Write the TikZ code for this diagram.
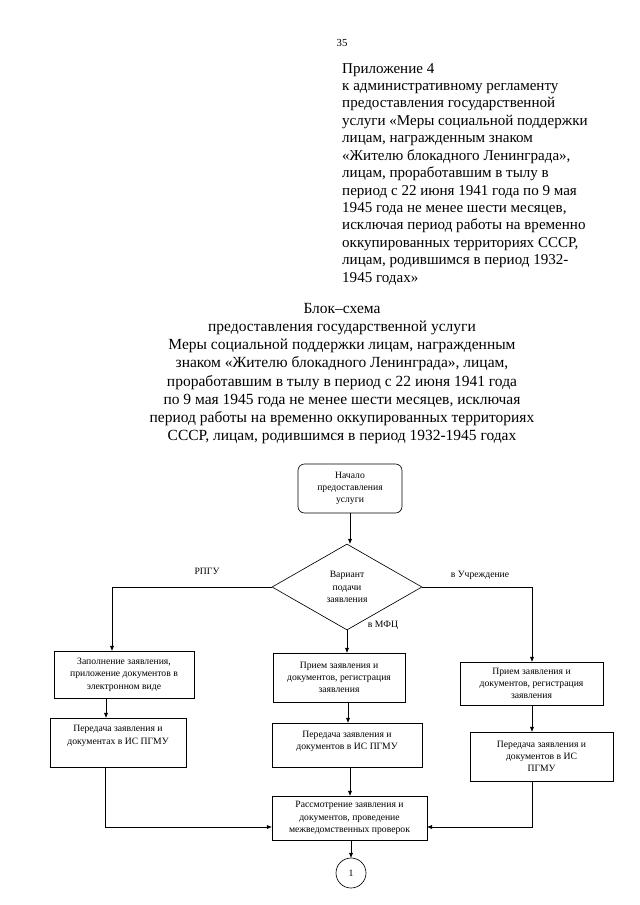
\documentclass[tikz,border=0pt]{standalone}
\usepackage{fontspec}
\setmainfont{Liberation Serif}
\usetikzlibrary{shapes.geometric,arrows.meta}
\def\pxu{0.93pt}

\begin{document}
\begin{tikzpicture}[x=0.93pt, y=-0.93pt,
    every node/.style={inner sep=0pt},
    flow/.style={font=\fontsize{9}{11.5}\selectfont, align=center},
    stepbox/.style={flow, draw, line width=0.6pt},
    conn/.style={line width=0.6pt},
    arr/.style={conn, -{Triangle[length=4.5pt,width=3.5pt]}}]

  \useasboundingbox (0,0) rectangle (640,905);

  % draws the page number and the headings
  \node (pnum) at (342,43) {\fontsize{10}{12}\selectfont 35};
  \node[anchor=north west, align=left, font=\fontsize{14}{16.2}\selectfont] (appx) at (342,63)
    {Приложение 4\\
     к административному регламенту\\
     предоставления государственной\\
     услуги «Меры социальной поддержки\\
     лицам, награжденным знаком\\
     «Жителю блокадного Ленинграда»,\\
     лицам, проработавшим в тылу в\\
     период с 22 июня 1941 года по 9 мая\\
     1945 года не менее шести месяцев,\\
     исключая период работы на временно\\
     оккупированных территориях СССР,\\
     лицам, родившимся в период 1932-\\
     1945 годах»};
  \node[anchor=north, align=center, font=\fontsize{14.4}{16.9}\selectfont] (title) at (342,303)
    {Блок–схема\\
     предоставления государственной услуги\\
     Меры социальной поддержки лицам, награжденным\\
     знаком «Жителю блокадного Ленинграда», лицам,\\
     проработавшим в тылу в период с 22 июня 1941 года\\
     по 9 мая 1945 года не менее шести месяцев, исключая\\
     период работы на временно оккупированных территориях\\
     СССР, лицам, родившимся в период 1932-1945 годах};

  % draws the blocks
  \node[stepbox, rounded corners=6pt, minimum width=104*\pxu, minimum height=49*\pxu] (start) at (350,488.5)
    {Начало\\предоставления\\услуги};
  \node[stepbox, diamond, minimum width=150*\pxu, minimum height=86*\pxu] (var) at (347,587)
    {Вариант\\подачи\\заявления};

  \node[stepbox, minimum width=140*\pxu, minimum height=47*\pxu] (fill) at (124,674.5)
    {Заполнение заявления,\\приложение документов в\\электронном виде};
  \node[stepbox, minimum width=136*\pxu, minimum height=49*\pxu, text depth=14pt] (sendL) at (118,742.5)
    {Передача заявления и\\документах в ИС ПГМУ};

  \node[stepbox, minimum width=132*\pxu, minimum height=49*\pxu] (recM) at (339,677.5)
    {Прием заявления и\\документов, регистрация\\заявления};
  \node[stepbox, minimum width=150*\pxu, minimum height=44*\pxu, text depth=9pt] (sendM) at (347,745)
    {Передача заявления и\\документов в ИС ПГМУ};

  \node[stepbox, minimum width=143*\pxu, minimum height=43*\pxu] (recR) at (531.5,683.5)
    {Прием заявления и\\документов, регистрация\\заявления};
  \node[stepbox, minimum width=143*\pxu, minimum height=49*\pxu] (sendR) at (541.5,756.5)
    {Передача заявления и\\документов в ИС\\ПГМУ};

  \node[stepbox, minimum width=155*\pxu, minimum height=44*\pxu] (check) at (349.5,818)
    {Рассмотрение заявления и\\документов, проведение\\межведомственных проверок};
  \node[stepbox, circle, minimum size=30*\pxu] (next) at (351,873) {1};

  % draws the branch labels
  \node[flow] (lblL) at (207,571) {РПГУ};
  \node[flow] (lblR) at (480,575) {в Учреждение};
  \node[flow] (lblM) at (383,625) {в МФЦ};

  % draws the connectors
  \coordinate (cL) at (112,587);
  \coordinate (inL) at (check.west |- 0,827);
  \coordinate (inR) at (check.east |- 0,827);
  \draw[arr] (start.south) -- (start.south |- var.north);
  \draw[arr] (var.west) -- (cL) -- (cL |- fill.north);
  \draw[arr] (fill.south -| 106,0) -- (sendL.north -| 106,0);
  \draw[arr] (sendL.south -| 105,0) |- (inL);
  \draw[arr] (var.south) -- (var.south |- recM.north);
  \draw[arr] (recM.south -| 348,0) -- (sendM.north -| 348,0);
  \draw[arr] (sendM.south -| 350,0) -- (check.north -| 350,0);
  \draw[arr] (var.east) -| (recR.north -| 532,0);
  \draw[arr] (recR.south -| 532,0) -- (sendR.north -| 532,0);
  \draw[arr] (sendR.south -| 532,0) |- (inR);
  \draw[arr] (check.south -| next.north) -- (next.north);
\end{tikzpicture}
\end{document}
